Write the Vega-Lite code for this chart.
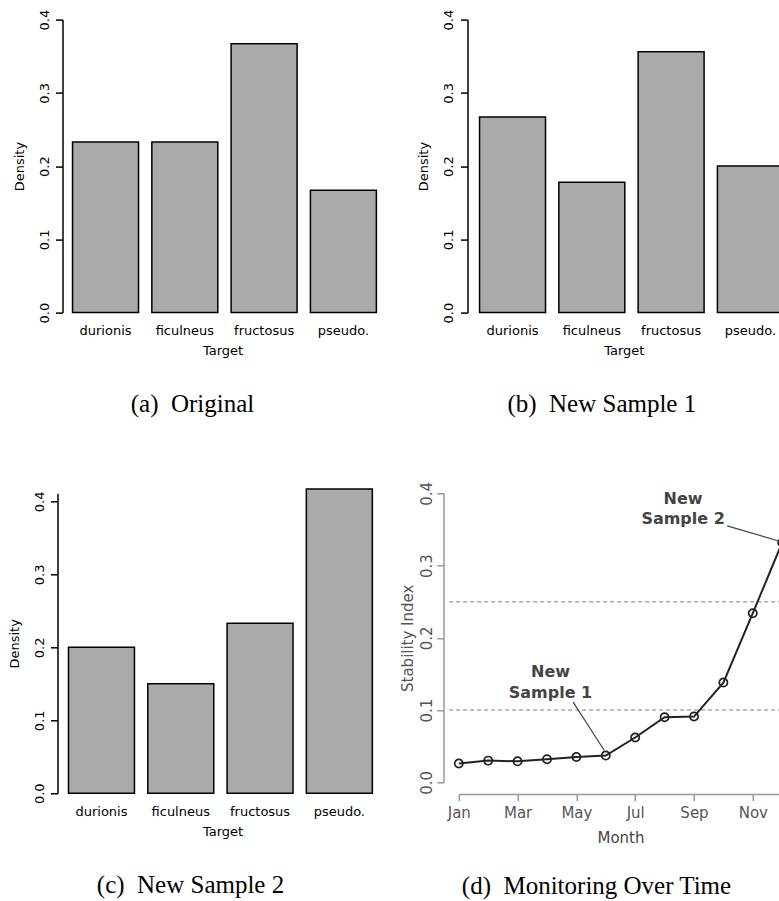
{
  "$schema": "https://vega.github.io/schema/vega-lite/v6.json",
  "background": "white",
  "autosize": {"type": "pad"},
  "padding": {"left": 7.5, "top": 8.6, "right": 0, "bottom": 0},
  "bounds": "flush",
  "align": "each",
  "columns": 2,
  "spacing": {"row": 180.7, "column": 71.3},
  "config": {
    "view": {"stroke": null},
    "axis": {
      "grid": false,
      "labelFont": "DejaVu Sans",
      "titleFont": "DejaVu Sans",
      "titleFontWeight": "normal",
      "labelColor": "#000",
      "titleColor": "#000",
      "domainColor": "#000",
      "tickColor": "#000",
      "labelFontSize": 13,
      "titleFontSize": 13
    },
    "title": {"font": "Liberation Serif", "fontSize": 25, "fontWeight": "normal", "color": "#000"}
  },
  "datasets": {
    "original": [
      {"target": "durionis", "density": 0.233},
      {"target": "ficulneus", "density": 0.233},
      {"target": "fructosus", "density": 0.367},
      {"target": "pseudo.", "density": 0.167}
    ],
    "sample1": [
      {"target": "durionis", "density": 0.267},
      {"target": "ficulneus", "density": 0.178},
      {"target": "fructosus", "density": 0.356},
      {"target": "pseudo.", "density": 0.2}
    ],
    "sample2": [
      {"target": "durionis", "density": 0.2},
      {"target": "ficulneus", "density": 0.15},
      {"target": "fructosus", "density": 0.233},
      {"target": "pseudo.", "density": 0.417}
    ],
    "monitor": [
      {"m": 1, "month": "Jan", "index": 0.026},
      {"m": 2, "month": "Feb", "index": 0.030},
      {"m": 3, "month": "Mar", "index": 0.029},
      {"m": 4, "month": "Apr", "index": 0.032},
      {"m": 5, "month": "May", "index": 0.035},
      {"m": 6, "month": "Jun", "index": 0.037},
      {"m": 7, "month": "Jul", "index": 0.062},
      {"m": 8, "month": "Aug", "index": 0.090},
      {"m": 9, "month": "Sep", "index": 0.091},
      {"m": 10, "month": "Oct", "index": 0.138},
      {"m": 11, "month": "Nov", "index": 0.234},
      {"m": 12, "month": "Dec", "index": 0.332}
    ],
    "thresholds": [
      {"index": 0.1},
      {"index": 0.25}
    ],
    "leaders": [
      {"m": 4.89, "index": 0.111, "m2": 5.95, "index2": 0.044},
      {"m": 10.13, "index": 0.355, "m2": 11.88, "index2": 0.334}
    ],
    "notes": [
      {"m": 4.12, "index": 0.152, "label": "New"},
      {"m": 4.12, "index": 0.123, "label": "Sample 1"},
      {"m": 8.63, "index": 0.392, "label": "New"},
      {"m": 8.63, "index": 0.364, "label": "Sample 2"}
    ]
  },
  "concat": [
    {
      "width": 330,
      "height": 293,
      "data": {"name": "original"},
      "title": {"text": "(a)\u00a0\u00a0Original", "orient": "bottom", "anchor": "middle", "frame": "group", "dx": -30, "offset": 34},
      "mark": {"type": "bar", "fill": "#aaaaaa", "stroke": "#000", "strokeWidth": 1.5},
      "encoding": {
        "x": {
          "field": "target", "type": "nominal", "sort": null,
          "scale": {"paddingInner": 0.168, "paddingOuter": 0.165, "align": 0.575},
          "axis": {"title": "Target", "labelAngle": 0, "domain": false, "ticks": false, "tickSize": 0, "labelPadding": 12.4, "titlePadding": 7}
        },
        "y": {
          "field": "density", "type": "quantitative",
          "scale": {"domain": [0, 0.4], "nice": false},
          "axis": {"title": "Density", "values": [0, 0.1, 0.2, 0.3, 0.4], "format": ".1f", "labelAngle": -90, "labelAlign": "center", "labelBaseline": "bottom", "tickSize": 7, "labelPadding": 4.5, "titlePadding": 12, "domainWidth": 1.5, "tickWidth": 1.5, "offset": -5}
        }
      }
    },
    {
      "width": 330,
      "height": 293,
      "data": {"name": "sample1"},
      "title": {"text": "(b)\u00a0\u00a0New Sample 1", "orient": "bottom", "anchor": "middle", "frame": "group", "dx": -22, "offset": 34},
      "mark": {"type": "bar", "fill": "#aaaaaa", "stroke": "#000", "strokeWidth": 1.5},
      "encoding": {
        "x": {
          "field": "target", "type": "nominal", "sort": null,
          "scale": {"paddingInner": 0.168, "paddingOuter": 0.165, "align": 0.793},
          "axis": {"title": "Target", "labelAngle": 0, "domain": false, "ticks": false, "tickSize": 0, "labelPadding": 12.4, "titlePadding": 7}
        },
        "y": {
          "field": "density", "type": "quantitative",
          "scale": {"domain": [0, 0.4], "nice": false},
          "axis": {"title": "Density", "values": [0, 0.1, 0.2, 0.3, 0.4], "format": ".1f", "labelAngle": -90, "labelAlign": "center", "labelBaseline": "bottom", "tickSize": 7, "labelPadding": 4.5, "titlePadding": 12, "domainWidth": 1.5, "tickWidth": 1.5, "offset": -8.7}
        }
      }
    },
    {
      "width": 330,
      "height": 300,
      "data": {"name": "sample2"},
      "title": {"text": "(c)\u00a0\u00a0New Sample 2", "orient": "bottom", "anchor": "middle", "frame": "group", "dx": -32, "offset": 34},
      "mark": {"type": "bar", "fill": "#aaaaaa", "stroke": "#000", "strokeWidth": 1.5},
      "encoding": {
        "x": {
          "field": "target", "type": "nominal", "sort": null,
          "scale": {"paddingInner": 0.168, "paddingOuter": 0.165, "align": 0.42},
          "axis": {"title": "Target", "labelAngle": 0, "domain": false, "ticks": false, "tickSize": 0, "labelPadding": 12.4, "titlePadding": 7}
        },
        "y": {
          "field": "density", "type": "quantitative",
          "scale": {"domain": [0, 0.411], "nice": false},
          "axis": {"title": "Density", "values": [0, 0.1, 0.2, 0.3, 0.4], "format": ".1f", "labelAngle": -90, "labelAlign": "center", "labelBaseline": "bottom", "tickSize": 7, "labelPadding": 4.5, "titlePadding": 12, "domainWidth": 1.5, "tickWidth": 1.5}
        }
      }
    },
    {
      "width": 323.4,
      "height": 289,
      "title": {"text": "(d)\u00a0\u00a0Monitoring Over Time", "orient": "bottom", "anchor": "middle", "frame": "group", "dx": -24, "offset": 28},
      "layer": [
        {
          "data": {"name": "thresholds"},
          "mark": {"type": "rule", "color": "#aaaaaa", "strokeWidth": 1.5, "strokeDash": [4, 3]},
          "encoding": {
            "y": {"field": "index", "type": "quantitative", "scale": {"domain": [0, 0.4], "nice": false}},
            "x": {"datum": 0.67, "type": "quantitative", "scale": {"domain": [1, 12], "nice": false, "zero": false}},
            "x2": {"datum": 12.5}
          }
        },
        {
          "data": {"name": "monitor"},
          "mark": {"type": "line", "color": "#222", "strokeWidth": 2},
          "encoding": {
            "x": {
              "field": "m", "type": "quantitative",
              "scale": {"domain": [1, 12], "nice": false, "zero": false},
              "axis": {
                "title": "Month",
                "values": [1, 2, 3, 4, 5, 6, 7, 8, 9, 10, 11, 12],
                "labelExpr": "datum.value % 2 == 1 ? ['Jan','Feb','Mar','Apr','May','Jun','Jul','Aug','Sep','Oct','Nov','Dec'][datum.value - 1] : ''",
                "labelOverlap": false, "labelFlush": false,
                "offset": 11.6, "tickSize": 6.7, "labelPadding": 5.3, "titlePadding": 10,
                "domainColor": "#999", "tickColor": "#999", "labelColor": "#555", "titleColor": "#444",
                "labelFontSize": 15, "titleFontSize": 15, "domainWidth": 1.5, "tickWidth": 1.5
              }
            },
            "y": {
              "field": "index", "type": "quantitative",
              "scale": {"domain": [0, 0.4], "nice": false},
              "axis": {
                "title": "Stability Index",
                "values": [0, 0.1, 0.2, 0.3, 0.4], "format": ".1f",
                "labelAngle": -90, "labelAlign": "center", "labelBaseline": "bottom",
                "offset": 15.3, "tickSize": 6.7, "labelPadding": 2.7, "titlePadding": 3.3,
                "domainColor": "#999", "tickColor": "#999", "labelColor": "#555", "titleColor": "#555",
                "labelFontSize": 15, "titleFontSize": 15, "domainWidth": 1.5, "tickWidth": 1.5
              }
            }
          }
        },
        {
          "data": {"name": "monitor"},
          "mark": {"type": "point", "shape": "circle", "filled": false, "color": "#222", "strokeWidth": 1.7, "size": 68, "opacity": 1},
          "encoding": {
            "x": {"field": "m", "type": "quantitative", "scale": {"domain": [1, 12], "nice": false, "zero": false}},
            "y": {"field": "index", "type": "quantitative", "scale": {"domain": [0, 0.4], "nice": false}}
          }
        },
        {
          "data": {"name": "leaders"},
          "mark": {"type": "rule", "color": "#444", "strokeWidth": 1.2},
          "encoding": {
            "x": {"field": "m", "type": "quantitative", "scale": {"domain": [1, 12], "nice": false, "zero": false}},
            "y": {"field": "index", "type": "quantitative", "scale": {"domain": [0, 0.4], "nice": false}},
            "x2": {"field": "m2"},
            "y2": {"field": "index2"}
          }
        },
        {
          "data": {"name": "notes"},
          "mark": {"type": "text", "font": "DejaVu Sans", "fontWeight": "bold", "fontSize": 16, "color": "#444", "align": "center", "baseline": "middle"},
          "encoding": {
            "x": {"field": "m", "type": "quantitative", "scale": {"domain": [1, 12], "nice": false, "zero": false}},
            "y": {"field": "index", "type": "quantitative", "scale": {"domain": [0, 0.4], "nice": false}},
            "text": {"field": "label"}
          }
        }
      ]
    }
  ]
}
